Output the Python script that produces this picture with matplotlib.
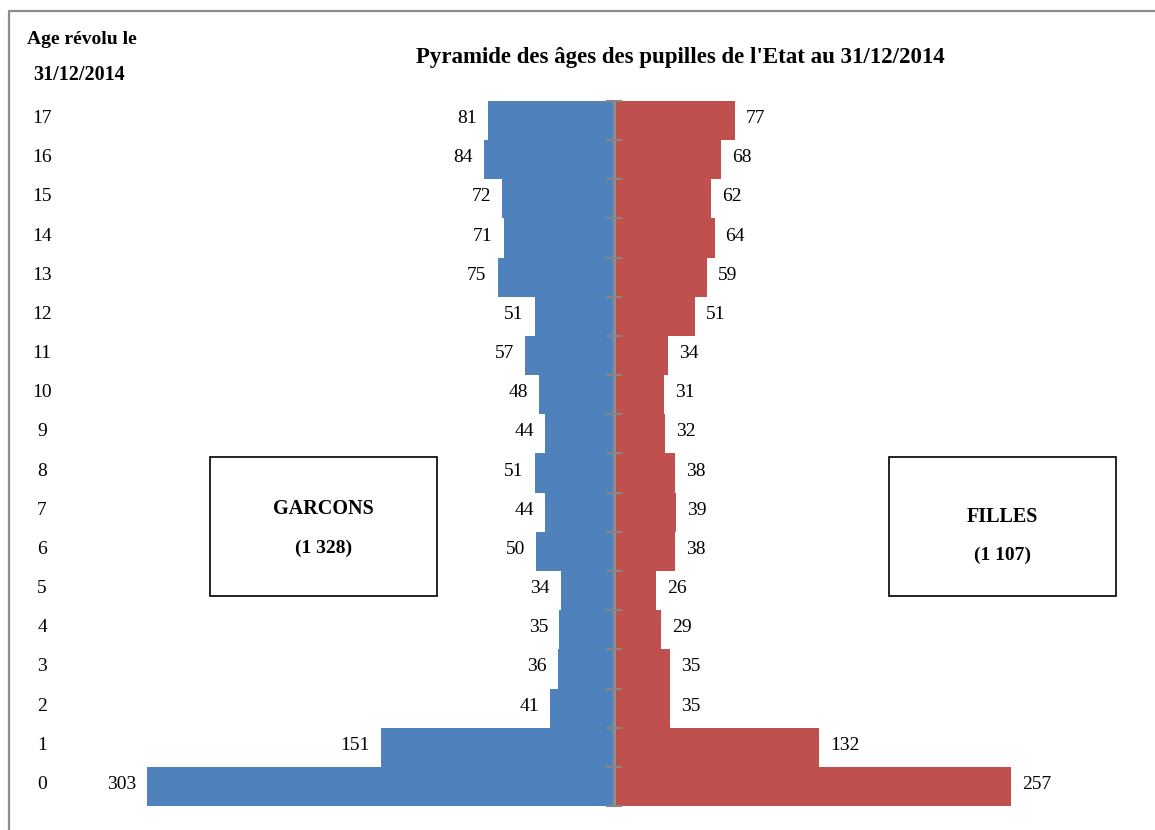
import matplotlib.pyplot as plt
import matplotlib.transforms as mtransforms
from matplotlib.patches import Rectangle
from matplotlib.lines import Line2D

plt.rcParams['font.family'] = ['Liberation Serif', 'DejaVu Serif']

# Data
ages = list(range(18))
garcons = [303, 151, 41, 36, 35, 34, 50, 44, 51, 44, 48, 57, 51, 75, 71, 72, 84, 81]
filles = [257, 132, 35, 35, 29, 26, 38, 39, 38, 32, 31, 34, 51, 59, 64, 62, 68, 77]
total_labels = ["GARCONS", "(1 328)", "FILLES", "(1 107)"]

W, H = 1155, 830
fig = plt.figure(figsize=(W / 100, H / 100), dpi=100)

# axes placed in pixel terms
ax_left, ax_right, ax_top, ax_bottom = 60, 1150, 101, 806
center_px, scale = 613.0, 1.538
ax = fig.add_axes([ax_left / W, (H - ax_bottom) / H,
                   (ax_right - ax_left) / W, (ax_bottom - ax_top) / H])
ax.set_xlim(-(center_px - ax_left) / scale, (ax_right - center_px) / scale)
ax.set_ylim(-0.5, 17.5)

blue = '#4F81BD'
red = '#C0504D'
ax.barh(ages, [-g for g in garcons], height=1.0, color=blue, linewidth=0)
ax.barh(ages, filles, height=1.0, left=2, color=red, linewidth=0)

# central axis with tick marks at bar boundaries
ax.axvline(0.8, color='#868686', lw=2, zorder=3)
for b in range(19):
    ax.plot([0.8], [b - 0.5], marker='_', ms=12, mew=1.5,
            color='#868686', zorder=3, clip_on=False)

nfs = 14
for a, g, f in zip(ages, garcons, filles):
    ax.annotate(str(g), (-g, a + 0.05), xytext=(-8, 0), textcoords='offset points',
                ha='right', va='center', fontsize=nfs)
    ax.annotate(str(f), (f + 2, a + 0.05), xytext=(8, 0), textcoords='offset points',
                ha='left', va='center', fontsize=nfs)

ax.axis('off')

# age labels on the far left
trans = mtransforms.blended_transform_factory(fig.transFigure, ax.transData)
for a in ages:
    fig.text(42 / W, a + 0.05, str(a), transform=trans, ha='center', va='center',
             fontsize=nfs)

fig.text(27 / W, 1 - 40 / H, "Age révolu le", ha='left', va='center',
         fontsize=14, fontweight='bold')
fig.text(33 / W, 1 - 75 / H, "31/12/2014", ha='left', va='center',
         fontsize=14.5, fontweight='bold')
fig.text(680 / W, 1 - 57 / H, "Pyramide des âges des pupilles de l'Etat au 31/12/2014",
         ha='center', va='center', fontsize=16.5, fontweight='bold')

# boxes with totals
for x0, t1, t2, y1, y2 in [(210, total_labels[0], total_labels[1], 509, 548),
                           (889, total_labels[2], total_labels[3], 517, 555)]:
    fig.patches.append(Rectangle((x0 / W, 1 - 596 / H), 227 / W, 139 / H,
                                 transform=fig.transFigure, fill=False,
                                 edgecolor='black', lw=1.2))
    fig.text((x0 + 113.5) / W, 1 - y1 / H, t1, ha='center', va='center',
             fontsize=14.5, fontweight='bold')
    fig.text((x0 + 113.5) / W, 1 - y2 / H, t2, ha='center', va='center',
             fontsize=14, fontweight='bold')

# outer frame (left and top edges visible)
fig.lines.append(Line2D([8.5 / W, 8.5 / W, 1.01], [-0.01, 1 - 11.5 / H, 1 - 11.5 / H],
                        transform=fig.transFigure, color='#8c8c8c', lw=1.6))

fig.savefig('out.png', dpi=100)
